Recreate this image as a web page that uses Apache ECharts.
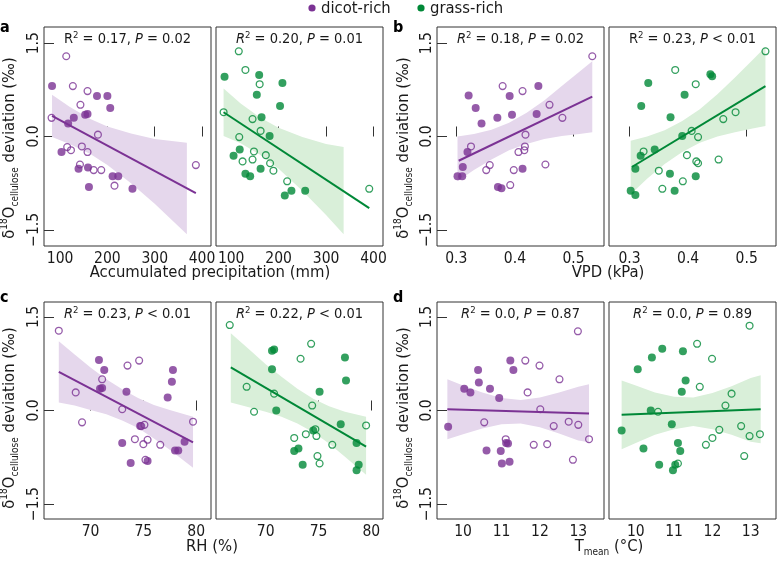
<!DOCTYPE html>
<html><head><meta charset="utf-8">
<script src="https://cdn.jsdelivr.net/npm/echarts@6/dist/echarts.min.js"></script>
<style>html,body{margin:0;padding:0;background:#fff}#c{width:778px;height:562px}</style>
</head><body><div id="c"></div>
<script>
const FONT = "'DejaVu Sans Condensed', 'DejaVu Sans', sans-serif";
const PURPLE = '#7b3294', GREEN = '#008837', PBAND = '#e5d7ec', GBAND = '#d9efd9';

// ---------- data: [x, y] ----------
const precipDicotFilled = [[83,0.81],[129,0.30],[117,0.21],[153,0.35],[158,0.36],[178,0.65],[200,0.65],[206,0.46],[103,-0.25],[139,-0.52],[159,-0.50],[211,-0.64],[223,-0.64],[161,-0.81],[253,-0.84]];
const precipDicotOpen = [[113,1.29],[127,0.81],[158,0.73],[143,0.51],[82,0.30],[180,0.03],[115,-0.17],[123,-0.22],[146,-0.16],[158,-0.25],[142,-0.45],[171,-0.54],[187,-0.54],[215,-0.79],[387,-0.46]];
const precipGrassFilled = [[86,0.96],[159,0.99],[208,0.86],[154,0.67],[203,0.49],[164,0.31],[181,0.01],[105,-0.31],[118,-0.21],[162,-0.52],[130,-0.60],[140,-0.64],[213,-0.95],[227,-0.87],[256,-0.87]];
const precipGrassOpen = [[116,1.37],[130,1.07],[160,0.84],[84,0.39],[145,0.28],[162,0.09],[117,-0.01],[148,-0.24],[173,-0.30],[145,-0.37],[124,-0.40],[182,-0.43],[189,-0.55],[218,-0.72],[391,-0.84]];

const vpdDicotFilled = [[0.321,0.66],[0.333,0.46],[0.343,0.21],[0.370,0.30],[0.391,0.65],[0.395,0.35],[0.440,0.81],[0.437,0.36],[0.319,-0.25],[0.311,-0.49],[0.302,-0.64],[0.310,-0.64],[0.371,-0.81],[0.377,-0.83],[0.413,-0.52]];
const vpdDicotOpen = [[0.532,1.29],[0.379,0.81],[0.413,0.73],[0.459,0.51],[0.481,0.30],[0.418,0.03],[0.325,-0.16],[0.417,-0.16],[0.416,-0.22],[0.406,-0.25],[0.357,-0.46],[0.351,-0.54],[0.398,-0.54],[0.452,-0.45],[0.392,-0.78]];
const vpdGrassFilled = [[0.332,0.86],[0.438,1.00],[0.441,0.97],[0.394,0.67],[0.320,0.49],[0.370,0.31],[0.390,0.01],[0.343,-0.21],[0.319,-0.31],[0.310,-0.52],[0.369,-0.60],[0.413,-0.64],[0.302,-0.87],[0.310,-0.94],[0.377,-0.87]];
const vpdGrassOpen = [[0.532,1.37],[0.378,1.07],[0.413,0.84],[0.460,0.28],[0.481,0.39],[0.406,0.09],[0.417,-0.01],[0.324,-0.24],[0.398,-0.30],[0.414,-0.40],[0.417,-0.43],[0.452,-0.37],[0.350,-0.55],[0.391,-0.72],[0.356,-0.84]];

const rhDicotFilled = [[70.8,0.81],[71.3,0.65],[77.8,0.65],[77.7,0.46],[70.9,0.35],[71.1,0.36],[73.4,0.30],[77.3,0.21],[74.7,-0.25],[73.0,-0.52],[78.9,-0.50],[78.0,-0.64],[78.3,-0.64],[73.8,-0.84],[75.4,-0.81]];
const rhDicotOpen = [[67.0,1.28],[74.6,0.80],[73.5,0.72],[71.1,0.50],[68.6,0.29],[73.0,0.02],[69.2,-0.19],[79.7,-0.18],[75.1,-0.23],[74.8,-0.25],[74.2,-0.46],[75.4,-0.47],[75.0,-0.54],[76.6,-0.55],[75.2,-0.79]];
const rhGrassFilled = [[70.6,0.96],[70.8,0.98],[77.5,0.85],[70.6,0.66],[77.6,0.48],[75.1,0.30],[71.0,0.0],[77.1,-0.22],[74.5,-0.32],[78.6,-0.52],[72.7,-0.65],[73.1,-0.61],[73.5,-0.87],[78.8,-0.87],[78.6,-0.96]];
const rhGrassOpen = [[66.6,1.37],[74.3,1.07],[73.3,0.83],[68.2,0.38],[70.8,0.27],[74.4,0.08],[68.9,-0.02],[79.5,-0.24],[74.7,-0.30],[73.8,-0.38],[72.7,-0.44],[74.8,-0.41],[76.3,-0.55],[74.9,-0.73],[75.1,-0.85]];

const tDicotFilled = [[11.23,0.80],[10.39,0.65],[11.31,0.65],[10.41,0.45],[10.03,0.35],[10.19,0.29],[10.70,0.35],[10.94,0.20],[9.61,-0.26],[11.12,-0.52],[11.17,-0.53],[10.61,-0.64],[10.98,-0.65],[11.01,-0.85],[11.21,-0.82]];
const tDicotOpen = [[12.99,1.27],[11.62,0.80],[11.99,0.72],[12.51,0.50],[11.68,0.29],[12.01,0.02],[10.55,-0.19],[12.75,-0.18],[13.0,-0.23],[12.36,-0.25],[11.11,-0.46],[13.28,-0.46],[11.84,-0.55],[12.19,-0.54],[12.86,-0.79]];
const tGrassFilled = [[10.69,0.99],[11.23,0.95],[10.42,0.85],[10.05,0.66],[11.30,0.48],[11.20,0.30],[10.39,0.0],[10.94,-0.22],[9.63,-0.32],[11.10,-0.52],[10.20,-0.61],[11.16,-0.65],[10.61,-0.87],[11.03,-0.87],[10.97,-0.96]];
const tGrassOpen = [[12.97,1.36],[11.60,1.07],[11.99,0.83],[11.67,0.38],[12.50,0.27],[12.34,0.08],[10.58,-0.02],[12.75,-0.25],[12.18,-0.31],[13.24,-0.38],[12.97,-0.41],[12.0,-0.44],[11.83,-0.55],[12.83,-0.73],[11.10,-0.85]];

// regression lines [x, y] end points
const precipDicotFit = [[83,0.33],[387,-0.91]];
const precipGrassFit = [[84,0.39],[391,-1.15]];
const vpdDicotFit = [[0.304,-0.39],[0.532,0.64]];
const vpdGrassFit = [[0.304,-0.49],[0.532,0.81]];
const rhDicotFit = [[67.0,0.62],[79.7,-0.51]];
const rhGrassFit = [[66.7,0.69],[79.5,-0.58]];
const tDicotFit = [[9.59,0.02],[13.28,-0.05]];
const tGrassFit = [[9.63,-0.07],[13.26,0.02]];

// confidence bands [x, lower, upper]
const precipDicotBand = [[83,-0.01,0.67],[120,-0.12,0.48],[164,-0.28,0.28],[200,-0.46,0.16],[250,-0.75,0.05],[300,-1.08,-0.04],[368,-1.57,-0.10]];
const precipGrassBand = [[84,0.01,0.77],[120,-0.11,0.53],[160,-0.29,0.31],[200,-0.52,0.14],[250,-0.87,-0.01],[300,-1.26,-0.12],[337,-1.57,-0.17]];
const vpdDicotBand = [[0.302,-0.72,0.0],[0.33,-0.54,0.04],[0.36,-0.37,0.11],[0.39,-0.22,0.22],[0.42,-0.12,0.38],[0.45,-0.04,0.58],[0.48,0.01,0.81],[0.51,0.04,1.04],[0.532,0.07,1.21]];
const vpdGrassBand = [[0.302,-0.93,-0.07],[0.33,-0.68,0.0],[0.36,-0.44,0.10],[0.39,-0.25,0.25],[0.42,-0.10,0.44],[0.45,0.0,0.68],[0.48,0.07,0.95],[0.51,0.13,1.23],[0.532,0.17,1.44]];
const rhDicotBand = [[67.0,0.13,1.11],[68.5,0.08,0.90],[70,0.01,0.69],[71.5,-0.06,0.50],[73,-0.16,0.34],[74.5,-0.28,0.20],[76,-0.45,0.09],[77.5,-0.63,0.01],[79.7,-0.92,-0.10]];
const rhGrassBand = [[66.7,0.13,1.24],[68.5,0.05,0.97],[70,-0.02,0.74],[71.5,-0.10,0.54],[73,-0.21,0.35],[74.5,-0.35,0.19],[76,-0.53,0.07],[77.5,-0.74,-0.02],[79.5,-1.03,-0.10]];
const tDicotBand = [[9.59,-0.46,0.50],[10,-0.38,0.40],[10.5,-0.29,0.29],[11,-0.22,0.20],[11.5,-0.21,0.17],[12,-0.27,0.21],[12.5,-0.37,0.29],[13,-0.48,0.38],[13.28,-0.51,0.42]];
const tGrassBand = [[9.63,-0.62,0.48],[10,-0.52,0.40],[10.5,-0.39,0.29],[11,-0.30,0.22],[11.5,-0.25,0.21],[12,-0.30,0.28],[12.5,-0.39,0.39],[13,-0.50,0.52],[13.26,-0.525,0.565]];

// ticks and labels
const precipTicks = [100,200,300,400];
const vpdTicks = [0.3,0.4,0.5];
const rhTicks = [70,75,80];
const tTicks = [10,11,12,13];
const yTickValues = [-1.5,0,1.5];
const yTickLabels = ['\u22121.5','0.0','1.5'];
const fitStats = [
  ['R', '0.17', '= 0.02'], ['Ri', '0.20', '= 0.01'],
  ['Ri', '0.18', '= 0.02'], ['R', '0.23', '< 0.01'],
  ['Ri', '0.23', '< 0.01'], ['Ri', '0.22', '< 0.01'],
  ['Ri', '0.0', '= 0.87'], ['Ri', '0.0', '= 0.89']
];

// ---------- layout ----------
const COLS = [44, 216, 437, 609], W = 167;
const ROWS = [[27, 219, [-1.76, 1.76]], [302, 217, [-1.74, 1.74]]];
const panels = [
  {c:0,r:0,x:[66,419],t:precipTicks,f:precipDicotFilled,o:precipDicotOpen,l:precipDicotFit,b:precipDicotBand,col:PURPLE,bc:PBAND,yl:true},
  {c:1,r:0,x:[68,420],t:precipTicks,f:precipGrassFilled,o:precipGrassOpen,l:precipGrassFit,b:precipGrassBand,col:GREEN,bc:GBAND,yl:false},
  {c:2,r:0,x:[0.267,0.552],t:vpdTicks,f:vpdDicotFilled,o:vpdDicotOpen,l:vpdDicotFit,b:vpdDicotBand,col:PURPLE,bc:PBAND,yl:true},
  {c:3,r:0,x:[0.265,0.550],t:vpdTicks,f:vpdGrassFilled,o:vpdGrassOpen,l:vpdGrassFit,b:vpdGrassBand,col:GREEN,bc:GBAND,yl:false},
  {c:0,r:1,x:[65.6,81.4],t:rhTicks,f:rhDicotFilled,o:rhDicotOpen,l:rhDicotFit,b:rhDicotBand,col:PURPLE,bc:PBAND,yl:true},
  {c:1,r:1,x:[65.3,81.1],t:rhTicks,f:rhGrassFilled,o:rhGrassOpen,l:rhGrassFit,b:rhGrassBand,col:GREEN,bc:GBAND,yl:false},
  {c:2,r:1,x:[9.32,13.67],t:tTicks,f:tDicotFilled,o:tDicotOpen,l:tDicotFit,b:tDicotBand,col:PURPLE,bc:PBAND,yl:true},
  {c:3,r:1,x:[9.30,13.66],t:tTicks,f:tGrassFilled,o:tGrassOpen,l:tGrassFit,b:tGrassBand,col:GREEN,bc:GBAND,yl:false}
];

const TXT = '#1a1a1a', BORDER = '#333';
const grid = [], xAxis = [], yAxis = [], series = [], graphic = [];

panels.forEach((p, i) => {
  const row = ROWS[p.r];
  grid.push({left: COLS[p.c], top: row[0], width: W, height: row[1], show: true,
    borderColor: BORDER, borderWidth: 1, backgroundColor: 'transparent'});
  xAxis.push({gridIndex: i, type: 'value', min: p.x[0], max: p.x[1],
    axisLine: {show: false}, splitLine: {show: false},
    axisTick: {show: true, inside: true, length: 10, customValues: p.t, lineStyle: {color: BORDER}},
    axisLabel: {customValues: p.t, margin: 5, fontSize: 15.5, fontFamily: FONT, color: TXT}});
  yAxis.push({gridIndex: i, type: 'value', min: row[2][0], max: row[2][1],
    axisLine: {show: false}, splitLine: {show: false},
    axisTick: {show: p.yl, inside: true, length: 10, customValues: yTickValues, lineStyle: {color: BORDER}},
    axisLabel: {show: p.yl, customValues: yTickValues, rotate: 90, margin: 2, fontSize: 15.5, fontFamily: FONT, color: TXT,
      formatter: v => yTickLabels[yTickValues.indexOf(v)] ?? ''}});
  const band = p.b, bc = p.bc;
  series.push({type: 'custom', xAxisIndex: i, yAxisIndex: i, silent: true, z: 1,
    data: [[band[0][0], band[0][1]]],
    renderItem: (params, api) => {
      const up = band.map(q => api.coord([q[0], q[2]]));
      const lo = band.slice().reverse().map(q => api.coord([q[0], q[1]]));
      return {type: 'polygon', shape: {points: up.concat(lo)}, style: {fill: bc}};
    }});
  series.push({type: 'scatter', xAxisIndex: i, yAxisIndex: i, data: p.f, symbolSize: 8, z: 3,
    itemStyle: {color: p.col}});
  series.push({type: 'scatter', xAxisIndex: i, yAxisIndex: i, data: p.o, symbolSize: 6.8, z: 3,
    itemStyle: {color: 'rgba(255,255,255,0)', borderColor: p.col, borderWidth: 1.3}});
  series.push({type: 'line', xAxisIndex: i, yAxisIndex: i, data: p.l, symbol: 'none', silent: true, z: 4,
    lineStyle: {color: p.col, width: 2}});
  const s = fitStats[i];
  graphic.push({type: 'text', x: COLS[p.c] + W / 2, y: row[0] + 12, z: 10,
    style: {text: '{' + (s[0] === 'Ri' ? 'i' : 'n') + '|R}{s|2}{n| = ' + s[1] + ', }{i|P}{n| ' + s[2] + '}',
      align: 'center', verticalAlign: 'middle',
      rich: {
        n: {fontSize: 14.5, fontFamily: FONT, fill: TXT, lineHeight: 17},
        i: {fontSize: 14.5, fontFamily: FONT, fill: TXT, fontStyle: 'italic', lineHeight: 17},
        s: {fontSize: 9.5, fontFamily: FONT, fill: TXT, verticalAlign: 'top'}
      }}});
});

const richBase = {
  m: {fontSize: 16.5, fontFamily: FONT, fill: TXT, lineHeight: 21},
  sup: {fontSize: 10, fontFamily: FONT, fill: TXT, verticalAlign: 'top'},
  sub: {fontSize: 10, fontFamily: FONT, fill: TXT, verticalAlign: 'bottom'}
};
const xTitles = [
  ['{m|Accumulated precipitation (mm)}', 210, 273],
  ['{m|VPD (kPa)}', 608, 273],
  ['{m|RH (%)}', 212, 547],
  ['{m|T}{sub|mean}{m| (°C)}', 609, 547]
];
xTitles.forEach(t => graphic.push({type: 'text', x: t[1], y: t[2],
  style: {text: t[0], align: 'center', verticalAlign: 'middle', rich: richBase}}));
const yTitle = '{m|δ}{sup|18}{m|O}{sub|cellulose}{m| deviation (‰)}';
[[10, 148], [404, 148], [10, 418], [404, 418]].forEach(pos => graphic.push({type: 'text', x: pos[0], y: pos[1], rotation: Math.PI / 2,
  style: {text: yTitle, align: 'center', verticalAlign: 'middle', rich: richBase}}));
[['a', 0, 28], ['b', 393, 28], ['c', 0, 298], ['d', 393, 298]].forEach(l => graphic.push({type: 'text', x: l[1], y: l[2],
  style: {text: l[0], fontSize: 16, fontWeight: 'bold', fontFamily: FONT, fill: '#000', verticalAlign: 'middle'}}));
// legend
const legendItems = [['dicot-rich', PURPLE, 312], ['grass-rich', GREEN, 421]];
legendItems.forEach(it => {
  graphic.push({type: 'circle', shape: {cx: it[2], cy: 8, r: 3.6}, style: {fill: it[1]}});
  graphic.push({type: 'text', x: it[2] + 9, y: 9,
    style: {text: it[0], fontSize: 16.5, fontFamily: FONT, fill: TXT, verticalAlign: 'middle'}});
});

const chart = echarts.init(document.getElementById('c'), null, {renderer: 'canvas'});
chart.setOption({animation: false, backgroundColor: '#fff', grid, xAxis, yAxis, series, graphic});
</script></body></html>
